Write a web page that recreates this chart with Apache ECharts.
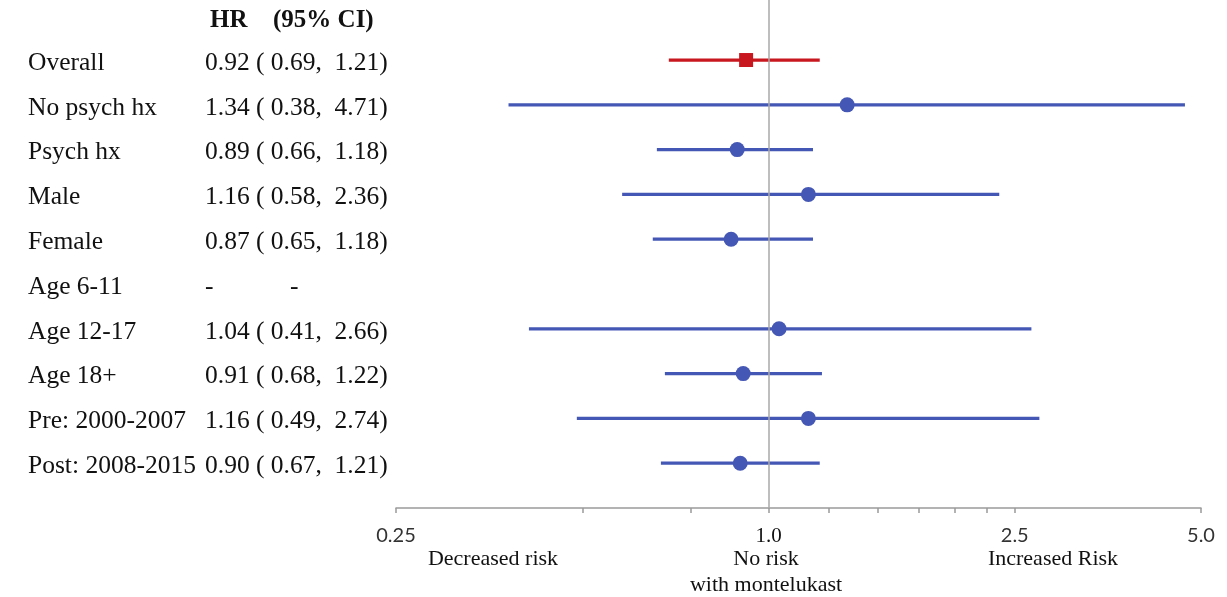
<!DOCTYPE html>
<html>
<head>
<meta charset="utf-8">
<script src="https://cdn.jsdelivr.net/npm/echarts@6/dist/echarts.min.js"></script>
<style>
  html, body { margin: 0; padding: 0; background: #fff; }
  #chart { width: 1227px; height: 597px; }
</style>
</head>
<body>
<div id="chart"></div>
<script>
  // subgroups, top to bottom
  const groups = ['Overall', 'No psych hx', 'Psych hx', 'Male', 'Female', 'Age 6-11',
                  'Age 12-17', 'Age 18+', 'Pre: 2000-2007', 'Post: 2008-2015'];
  const hr   = [0.92, 1.34, 0.89, 1.16, 0.87, null, 1.04, 0.91, 1.16, 0.90];
  const low  = [0.69, 0.38, 0.66, 0.58, 0.65, null, 0.41, 0.68, 0.49, 0.67];
  const high = [1.21, 4.71, 1.18, 2.36, 1.18, null, 2.66, 1.22, 2.74, 1.21];
  const xTicks  = [0.25, 0.5, 0.75, 1, 1.25, 1.5, 1.75, 2, 2.25, 2.5, 5];
  const xLabels = [0.25, 1, 2.5, 5];

  const font = 'Liberation Serif';
  const red = '#C8171E';
  const blue = '#4557B5';

  function ciText(i) {
    if (hr[i] == null) return '-            -';
    return hr[i].toFixed(2) + ' ( ' + low[i].toFixed(2) + ',  ' + high[i].toFixed(2) + ')';
  }

  const overallPts = [[hr[0], 0]];
  const overallCI = [[low[0], high[0], 0]];
  const subPts = [], subCI = [];
  for (let i = 1; i < groups.length; i++) {
    if (hr[i] == null) continue;
    subPts.push([hr[i], i]);
    subCI.push([low[i], high[i], i]);
  }

  function ciRender(color) {
    return function (params, api) {
      const a = api.coord([api.value(0), api.value(2)]);
      const b = api.coord([api.value(1), api.value(2)]);
      return {
        type: 'line',
        shape: { x1: a[0], y1: a[1], x2: b[0], y2: b[1] },
        style: { stroke: color, lineWidth: 3.2 }
      };
    };
  }

  function note(text, x, y) {
    return {
      type: 'text',
      style: { text: text, x: x, y: y, textAlign: 'center', textVerticalAlign: 'middle', font: '22px ' + font, fill: '#111' }
    };
  }

  const chart = echarts.init(document.getElementById('chart'));
  chart.setOption({
    backgroundColor: '#fff',
    animation: false,
    title: {
      text: '{a|HR}{b|(95% CI)}',
      left: 205,
      top: 3,
      textStyle: {
        rich: {
          a: { fontFamily: font, fontWeight: 'bold', fontSize: 25, color: '#111', width: 63 },
          b: { fontFamily: font, fontWeight: 'bold', fontSize: 25, color: '#111' }
        }
      }
    },
    grid: { left: 396, top: 0, width: 805, height: 508, outerBoundsMode: 'none' },
    xAxis: {
      type: 'log',
      logBase: 10,
      min: 0.25,
      max: 5,
      axisLine: { show: true, onZero: false, lineStyle: { color: '#9a9a9a', width: 1.5 } },
      axisTick: { show: true, customValues: xTicks, length: 5, lineStyle: { color: '#9a9a9a', width: 1.5 } },
      axisLabel: {
        customValues: xLabels,
        margin: 18,
        formatter: v => (v === 1 ? '{s|1.0}' : '{k|' + (v < 1 ? v.toFixed(2) : v.toFixed(1)) + '}'),
        rich: {
          s: { fontFamily: font, fontSize: 21, color: '#111' },
          k: { fontFamily: 'Lato', fontSize: 20, color: '#333' }
        }
      },
      splitLine: { show: false }
    },
    yAxis: {
      type: 'value',
      inverse: true,
      min: -1.34,
      max: 10,
      axisLine: { show: false },
      axisTick: { show: false },
      splitLine: { show: false },
      axisLabel: {
        customValues: groups.map((g, i) => i),
        align: 'left',
        margin: 368,
        formatter: v => '{n|' + groups[v] + '}{v|' + ciText(v) + '}',
        rich: {
          n: { fontFamily: font, fontSize: 25.5, color: '#111', width: 177, padding: [6, 0, 0, 0] },
          v: { fontFamily: font, fontSize: 25.5, color: '#111', padding: [6, 0, 0, 0] }
        }
      }
    },
    graphic: [
      note('Decreased risk', 493, 559),
      note('No risk', 766, 559),
      note('with montelukast', 766, 585),
      note('Increased Risk', 1053, 559)
    ],
    series: [
      {
        type: 'scatter',
        data: [],
        silent: true,
        markLine: {
          silent: true,
          symbol: 'none',
          label: { show: false },
          lineStyle: { color: '#a8a8a8', width: 1.5, type: 'solid' },
          data: [{ xAxis: 1 }]
        }
      },
      { type: 'custom', renderItem: ciRender(red), data: overallCI, z: 2 },
      { type: 'custom', renderItem: ciRender(blue), data: subCI, z: 2 },
      { type: 'scatter', data: overallPts, symbol: 'rect', symbolSize: 14, itemStyle: { color: red, opacity: 1 }, z: 3 },
      { type: 'scatter', data: subPts, symbol: 'circle', symbolSize: 15, itemStyle: { color: blue, opacity: 1 }, z: 3 }
    ]
  });
</script>
</body>
</html>
